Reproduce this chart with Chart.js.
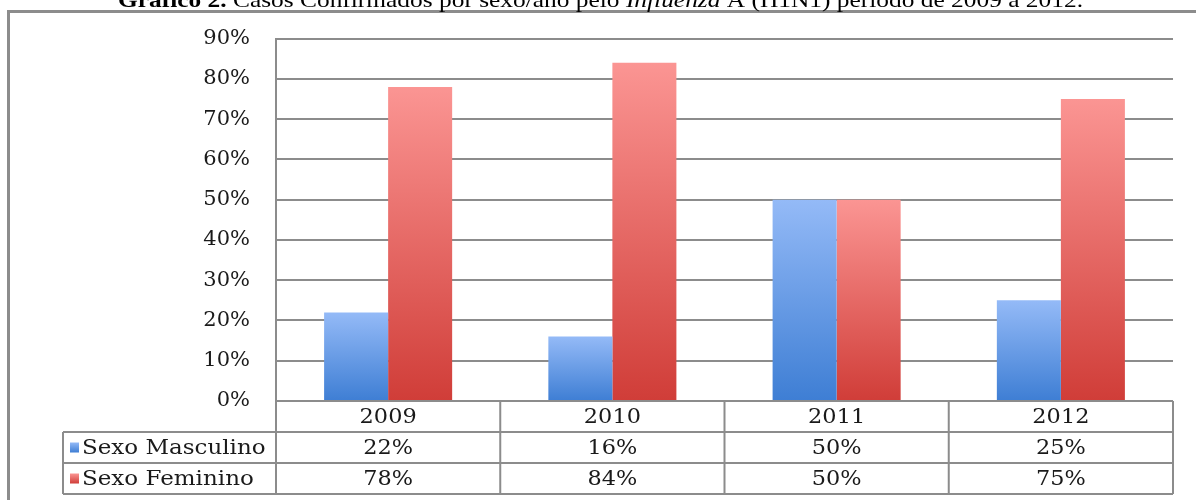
<!DOCTYPE html>
<html>
<head>
<meta charset="utf-8">
<script src="https://cdn.jsdelivr.net/npm/chart.js@4/dist/chart.umd.min.js"></script>
<style>
  html, body { margin: 0; padding: 0; background: #fff; }
  #wrap { width: 1196px; height: 500px; position: relative; }
</style>
</head>
<body>
<div id="wrap"><canvas id="grafico"></canvas></div>
<script>
const anos = ['2009', '2010', '2011', '2012'];
const masculino = [22, 16, 50, 25];
const feminino = [78, 84, 50, 75];
const serieNomes = ['Sexo Masculino', 'Sexo Feminino'];

const serif = '"DejaVu Serif", serif';
const linha = '#8c8c8c';

// gradient per bar, top light -> bottom dark
function degrade(topo, base) {
  return function (ctx) {
    const chart = ctx.chart;
    const y = chart.scales.y;
    if (!y || ctx.parsed === undefined) return base;
    const y0 = y.getPixelForValue(0);
    const y1 = y.getPixelForValue(ctx.parsed.y);
    if (!isFinite(y0) || !isFinite(y1) || y0 === y1) return base;
    const g = chart.ctx.createLinearGradient(0, y1, 0, y0);
    g.addColorStop(0, topo);
    g.addColorStop(1, base);
    return g;
  };
}

const cores = [['#94baf7', '#3e7ed4'], ['#fb9593', '#d03d38']];

// text stretched sideways, like the original picture
function textoLargo(c, txt, x, y, fator, alinh) {
  const w = c.measureText(txt).width * fator;
  let x0 = x;
  if (alinh === 'center') x0 = x - w / 2;
  c.save();
  c.textAlign = 'left';
  c.translate(x0, y);
  c.scale(fator, 1);
  c.fillText(txt, 0, 0);
  c.restore();
}

const moldura = {
  id: 'moldura',
  afterDraw(chart) {
    const c = chart.ctx;
    c.save();
    // outer frame (left + top visible)
    c.strokeStyle = linha;
    c.lineWidth = 3;
    c.beginPath();
    c.moveTo(8.5, 500);
    c.lineTo(8.5, 11.5);
    c.lineTo(1196, 11.5);
    c.stroke();

    // title, partly cut off at top
    c.fillStyle = '#000';
    c.textBaseline = 'alphabetic';
    const partes = [
      ['bold 22px "Liberation Serif", serif', 'Gráfico 2.'],
      ['22px "Liberation Serif", serif', ' Casos Confirmados por sexo/ano pelo '],
      ['italic 22px "Liberation Serif", serif', 'Influenza'],
      ['22px "Liberation Serif", serif', ' A (H1N1) período de 2009 a 2012.']
    ];
    let total = 0;
    partes.forEach(p => { c.font = p[0]; total += c.measureText(p[1]).width; });
    const fator = 965 / total;
    c.translate(118, 7);
    c.scale(fator, 1);
    let x = 0;
    partes.forEach(p => { c.font = p[0]; c.fillText(p[1], x, 0); x += c.measureText(p[1]).width; });
    c.restore();
  }
};

const tabela = {
  id: 'tabela',
  afterDraw(chart) {
    const c = chart.ctx;
    const xs = chart.scales.x;
    const area = chart.chartArea;
    const passo = (area.right - area.left) / anos.length;
    const linhas = [area.bottom, 432, 463, 494];
    const esq = 63;
    c.save();
    c.strokeStyle = linha;
    c.lineWidth = 2;
    c.beginPath();
    // horizontal lines
    c.moveTo(area.left, linhas[0]); c.lineTo(area.right, linhas[0]);
    for (let i = 1; i < linhas.length; i++) {
      c.moveTo(esq, linhas[i]); c.lineTo(area.right, linhas[i]);
    }
    // vertical lines
    for (let i = 0; i <= anos.length; i++) {
      const xx = area.left + i * passo;
      c.moveTo(xx, linhas[0]); c.lineTo(xx, linhas[3]);
    }
    c.moveTo(esq, linhas[1]); c.lineTo(esq, linhas[3]);
    c.stroke();

    c.fillStyle = '#1a1a1a';
    c.font = '20px ' + serif;
    c.textBaseline = 'middle';
    const series = [masculino, feminino];
    anos.forEach((a, i) => {
      const cx = xs.getPixelForValue(i);
      textoLargo(c, a, cx, (linhas[0] + linhas[1]) / 2 + 1, 1.12, 'center');
      series.forEach((s, k) => {
        textoLargo(c, s[i] + '%', cx, (linhas[k + 1] + linhas[k + 2]) / 2 + 1, 1.12, 'center');
      });
    });
    serieNomes.forEach((n, k) => {
      const cy = (linhas[k + 1] + linhas[k + 2]) / 2;
      const g = c.createLinearGradient(0, cy - 5, 0, cy + 5);
      g.addColorStop(0, cores[k][0]);
      g.addColorStop(1, cores[k][1]);
      c.fillStyle = g;
      c.fillRect(70, cy - 5, 9, 10);
      c.fillStyle = '#1a1a1a';
      textoLargo(c, n, 82, cy + 1, 1.15, 'left');
    });
    c.restore();
  }
};

new Chart('grafico', {
  type: 'bar',
  data: {
    labels: anos,
    datasets: [{
      label: serieNomes[0],
      data: masculino,
      backgroundColor: degrade(cores[0][0], cores[0][1])
    }, {
      label: serieNomes[1],
      data: feminino,
      backgroundColor: degrade(cores[1][0], cores[1][1])
    }]
  },
  options: {
    responsive: true,
    maintainAspectRatio: false,
    animation: false,
    categoryPercentage: 0.571,
    barPercentage: 1.0,
    layout: { padding: { top: 37, right: 23, bottom: 99, left: 0 } },
    plugins: {
      legend: { display: false },
      tooltip: { enabled: false }
    },
    scales: {
      x: { display: false },
      y: {
        min: 0,
        max: 90,
        afterFit(scale) { scale.width = 276; },
        ticks: {
          stepSize: 10,
          padding: 26,
          color: '#1a1a1a',
          font: { family: serif, size: 21 },
          callback: v => v + '%'
        },
        grid: { color: linha, lineWidth: 2, drawTicks: false },
        border: { display: true, color: linha, width: 2 }
      }
    }
  },
  plugins: [moldura, tabela]
});
</script>
</body>
</html>
